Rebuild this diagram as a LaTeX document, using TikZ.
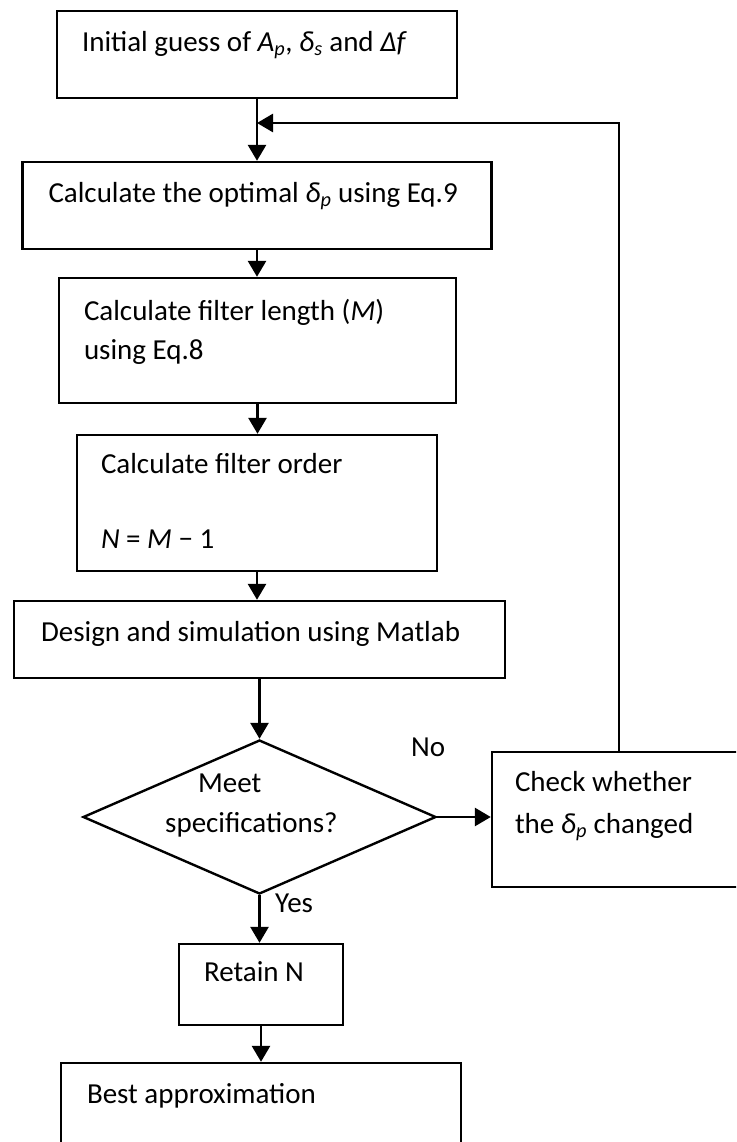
\documentclass[tikz,border=0pt]{standalone}
\usepackage{fontspec}
\setmainfont{Carlito}
\usetikzlibrary{arrows.meta,shapes.geometric,calc}
\begin{document}
\begin{tikzpicture}[x=1pt,y=-1pt,
  box/.style={draw, line width=2.4pt, rectangle, inner sep=0pt},
  txt/.style={anchor=base west, inner sep=0pt, font=\fontsize{29}{36}\selectfont},
  conn/.style={line width=2.8pt, -{Triangle[width=18pt,length=16pt]}}]
\useasboundingbox (0,0) rectangle (736,1142);
\clip (0,0) rectangle (736,1142);

% boxes
\node[box, minimum width=400pt, minimum height=87pt]  (b1)   at (257,54.5)   {};
\node[box, minimum width=469pt, minimum height=87pt]  (b2)   at (257,205.5)  {};
\node[box, minimum width=397pt, minimum height=125pt] (b3)   at (257.5,340.5) {};
\node[box, minimum width=360pt, minimum height=136pt] (b4)   at (257,503)    {};
\node[box, minimum width=491pt, minimum height=77pt]  (b5)   at (259.5,639.5) {};
\node[box, diamond, minimum width=353pt, minimum height=154pt] (d) at (259.5,817) {};
\node[box, minimum width=268pt, minimum height=135pt] (chk)  at (626,819.5)  {};
\node[box, minimum width=164pt, minimum height=81pt]  (ret)  at (261,984.5)  {};
\node[box, minimum width=400pt, minimum height=116pt] (best) at (261,1121)   {};

% texts
\node[txt] (t1)  at ($(b1.north west)+(26,42)$) {Initial guess of \textit{A}\textsubscript{\textit{p}}, \textit{δ}\textsubscript{\textit{s}} and \textit{Δf}};
\node[txt] (t2)  at ($(b2.north west)+(27,42)$) {Calculate the optimal \textit{δ}\textsubscript{\textit{p}} using Eq.9};
\node[txt] (t3a) at ($(b3.north west)+(26,44)$) {Calculate filter length (\textit{M})};
\node[txt] (t3b) at ($(b3.north west)+(26,83)$) {using Eq.8};
\node[txt] (t4a) at ($(b4.north west)+(25,40)$) {Calculate filter order};
\node[txt] (t4b) at ($(b4.north west)+(25,115)$) {\textit{N} = \textit{M} − 1};
\node[txt] (t5)  at ($(b5.north west)+(28,42)$) {Design and simulation using Matlab};
\node[txt] (td1) at (198,792) {Meet};
\node[txt] (td2) at (165,832) {specifications?};
\node[txt] (tc1) at ($(chk.north west)+(24,41)$) {Check whether};
\node[txt] (tc2) at ($(chk.north west)+(24,83)$) {the \textit{δ}\textsubscript{\textit{p}} changed};
\node[txt] (tr)  at ($(ret.north west)+(26,39)$) {Retain N};
\node[txt] (tb)  at ($(best.north west)+(27,42)$) {Best approximation};
\node[txt] (no)  at (411,756) {No};
\node[txt] (yes) at (275,912) {Yes};

% connectors
\coordinate (fb) at (619,123);
\draw[conn] (b1.south) -- (b1.south |- b2.north);
\draw[conn] (b2.south) -- (b2.south |- b3.north);
\draw[conn] (b3.south) -- (b3.south |- b4.north);
\draw[conn] (b4.south) -- (b4.south |- b5.north);
\draw[conn] (b5.south) -- (b5.south |- d.north);
\draw[conn] (d.east) -- (d.east -| chk.west);
\draw[conn] (d.south) -- (d.south |- ret.north);
\draw[conn] (ret.south) -- (ret.south |- best.north);
\draw[conn] (chk.north -| fb) -- (fb) -- (fb -| b1.south);
\end{tikzpicture}
\end{document}
